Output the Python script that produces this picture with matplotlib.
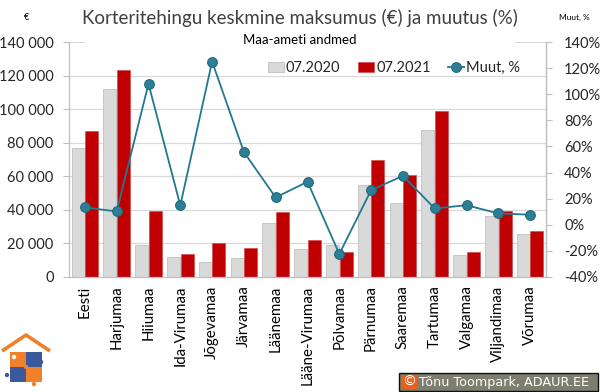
import matplotlib
matplotlib.use("Agg")
import matplotlib.pyplot as plt
import numpy as np
from matplotlib.ticker import FuncFormatter, MultipleLocator
from matplotlib.patches import Rectangle, Circle

categories = ["Eesti", "Harjumaa", "Hiiumaa", "Ida-Virumaa", "Jõgevamaa", "Järvamaa",
              "Läänemaa", "Lääne-Virumaa", "Põlvamaa", "Pärnumaa", "Saaremaa",
              "Tartumaa", "Valgamaa", "Viljandimaa", "Võrumaa"]
price_2020 = [77000, 112000, 19300, 11900, 8900, 11300, 32400, 16700, 19300, 55000,
              44300, 87700, 13300, 36100, 25800]
price_2021 = [87000, 123300, 39500, 13700, 20200, 17300, 38900, 22200, 14900, 70000,
              60700, 98600, 14900, 39500, 27600]
change_pct = [13.3, 10.2, 108, 14.8, 125, 55.7, 20.9, 33, -22.4, 26.5, 37.5, 12.5, 15, 8.7, 7.7]

FONT = "Lato"
plt.rcParams["font.family"] = [FONT, "DejaVu Sans"]
plt.rcParams["axes.unicode_minus"] = False

fig = plt.figure(figsize=(6, 3.92), dpi=100)
W, H = 600, 392
L, R, T, B = 69, 546, 42, 277
ax = fig.add_axes([L / W, 1 - B / H, (R - L) / W, (B - T) / H])

x = np.arange(len(categories))
bw = 0.41
grey = "#d9d9d9"
red = "#c00000"
ax.bar(x - 0.215, price_2020, bw, color=grey, edgecolor="#c0c0c0", linewidth=0.6,
       label="07.2020", zorder=2)
ax.bar(x + 0.215, price_2021, bw, color=red, edgecolor="#d04040", linewidth=0.4,
       label="07.2021", zorder=2)
ax.set_xlim(-0.5, len(categories) - 0.5)
ax.set_ylim(0, 140000)
ax.yaxis.set_major_locator(MultipleLocator(20000))
ax.yaxis.set_major_formatter(FuncFormatter(lambda v, p: f"{int(v):,}".replace(",", " ")))
ax.grid(axis="y", color="#d9d9d9", linewidth=0.9, zorder=0)
ax.set_axisbelow(True)
ax.set_xticks(x)
ax.set_xticklabels(categories, rotation=90, fontsize=10.8, color="#000000")
ax.tick_params(axis="x", length=0, pad=6)
ax.tick_params(axis="y", length=4, width=0.8, color="#bfbfbf", labelsize=10.5,
               labelcolor="#262626", pad=7)
for s in ["top"]:
    ax.spines[s].set_visible(False)
for s in ["left", "right", "bottom"]:
    ax.spines[s].set_color("#bfbfbf")
    ax.spines[s].set_linewidth(0.9)

ax2 = ax.twinx()
teal = "#22788f"
ax2.plot(x, change_pct, color=teal, linewidth=1.3, marker="o", markersize=7,
         markerfacecolor="#2e7f96", markeredgecolor="#1f6b80", markeredgewidth=0.8,
         label="Muut, %", zorder=5)
ax2.set_ylim(-40, 140)
ax2.yaxis.set_major_locator(MultipleLocator(20))
ax2.yaxis.set_major_formatter(FuncFormatter(lambda v, p: f"{int(round(v))}%"))
ax2.tick_params(axis="y", length=4, width=0.8, color="#bfbfbf", labelsize=10.5,
                labelcolor="#262626", pad=9)
for s in ["top", "left", "bottom"]:
    ax2.spines[s].set_visible(False)
ax2.spines["right"].set_color("#bfbfbf")
ax2.spines["right"].set_linewidth(0.9)

h1, l1 = ax.get_legend_handles_labels()
h2, l2 = ax2.get_legend_handles_labels()
leg = ax2.legend(h1 + h2, l1 + l2, loc="center", bbox_to_anchor=((394 - L) / (R - L), 1 - (68 - T) / (B - T)),
                 ncol=3, frameon=False, fontsize=10.5, handlelength=1.1, handletextpad=0.15,
                 columnspacing=1.2, borderaxespad=0)
for t in leg.get_texts():
    t.set_color("#262626")

# white title box covering top gridline
fig.patches.append(Rectangle((85 / W, 1 - 47 / H), (515 - 85) / W, 12 / H,
                             transform=fig.transFigure, facecolor="white", edgecolor="none",
                             zorder=3))

fig.text(300 / W, 1 - 18 / H, "Korteritehingu keskmine maksumus (€) ja muutus (%)",
         ha="center", va="center", fontsize=13.5, color="#404040")
fig.text(300 / W, 1 - 40 / H, "Maa-ameti andmed", ha="center", va="center",
         fontsize=9.5, color="#000000", zorder=4)
fig.text(27 / W, 1 - 17 / H, "€", ha="center", va="center", fontsize=6.5, color="#000000")
fig.text(574 / W, 1 - 17 / H, "Muut, %", ha="center", va="center", fontsize=6, color="#000000")

# overlay for logo and copyright
ov = fig.add_axes([0, 0, 1, 1], zorder=10)
ov.set_xlim(0, W)
ov.set_ylim(H, 0)
ov.axis("off")
ov.patch.set_alpha(0)
orange = "#f0802a"
blue = "#3b5a9c"
ov.plot([2, 26, 50], [351, 335, 351], color=orange, linewidth=2.6, solid_capstyle="butt")
ov.add_patch(Rectangle((10, 352), 16, 15, facecolor=orange, edgecolor="none"))
ov.add_patch(Rectangle((26, 352), 16, 15, facecolor=blue, edgecolor="none"))
ov.add_patch(Rectangle((10, 367), 16, 15, facecolor=blue, edgecolor="none"))
ov.add_patch(Rectangle((26, 367), 16, 15, facecolor=orange, edgecolor="none"))
ov.add_patch(Circle((41, 362), 2.2, facecolor=blue, edgecolor="none"))
ov.add_patch(Circle((7, 375), 2.2, facecolor=blue, edgecolor="none"))
ov.add_patch(Circle((34, 384), 2.2, facecolor=orange, edgecolor="none"))
ov.add_patch(Circle((26, 367), 2.2, facecolor=orange, edgecolor="none"))
ov.add_patch(Circle((14, 357), 2.2, facecolor="white", edgecolor="none"))

ov.add_patch(Rectangle((399, 373), 199, 18, facecolor="#7e7e6e", edgecolor="#101010", linewidth=1))
ov.add_patch(Rectangle((401, 375), 16, 14, facecolor="#e8601c", edgecolor="none"))
ov.text(409, 382, "©", ha="center", va="center", fontsize=10, color="white",
        family="DejaVu Sans")
ov.text(419, 382.5, "Tõnu Toompark, ADAUR.EE", ha="left", va="center", fontsize=9.2,
        color="white", family="DejaVu Sans")

fig.savefig("out.png", dpi=100)
